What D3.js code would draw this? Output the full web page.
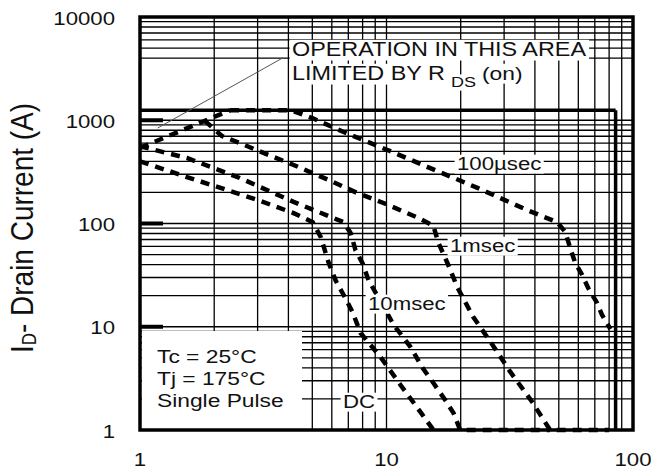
<!DOCTYPE html>
<html>
<head>
<meta charset="utf-8">
<script src="https://cdn.jsdelivr.net/npm/d3@7"></script>
<style>
  html, body { margin: 0; padding: 0; background: #fff; }
  text { font-family: "Liberation Sans", Arial, sans-serif; fill: #111; }
</style>
</head>
<body>
<div id="chart"></div>
<script>
// Safe operating area (V = drain-source volts, I = amps)
const rdsV = [1, 2.32];
const rdsI = [540, 1250];

const us100V = [2.32, 4.1, 5.0, 6.7, 10.1, 14.7, 23.4, 37.2, 49.2, 53.1, 55.6, 58.2, 62.2, 65.8, 71.5, 74.9, 81];
const us100I = [1250, 1250, 1050, 770, 515, 352, 221, 135, 103, 83, 58, 42, 31.7, 23.7, 17, 13, 9.5];

const ms1V = [1.83, 2.15, 2.54, 3.03, 4.2, 5.82, 7.63, 9.72, 13.5, 15.5, 16.2, 17.7, 19.4, 22.5, 26.9, 31.8, 39, 46.1, 80];
const ms1I = [990, 704, 602, 504, 369, 264, 197, 158, 113, 95, 66, 41, 24, 12.4, 6.7, 3.65, 1.87, 1.0, 1.0];

const ms10V = [1, 1.55, 2.54, 4.2, 5.82, 6.7, 7.15, 7.49, 8.0, 8.45, 10.7, 12.5, 14.0, 15.5, 17.3, 18.7, 19.9, 46];
const ms10I = [560, 431, 276, 162, 118, 103, 81, 55, 41, 28.4, 10.4, 6.4, 4.0, 2.85, 1.95, 1.46, 1.0, 1.0];

const dcV = [1, 1.55, 3.0, 4.2, 5.02, 5.41, 5.82, 6.22, 6.7, 7.28, 7.85, 9.46, 11.4, 14.0, 15.5];
const dcI = [400, 282, 169, 126, 103, 74, 42, 28, 20.3, 13.9, 8.7, 5.09, 2.73, 1.40, 1.0];

const maxCurrent = 1250;   // package limit
const maxVoltage = 85;     // BVdss limit
const leaderV = [1.18, 3.79];
const leaderI = [841, 4010];

const xTicks = [1, 10, 100];
const yTicks = [1, 10, 100, 1000, 10000];
const xGrid = [2, 3, 4, 5, 6, 7, 8, 9, 10, 20, 30, 40, 50, 60, 70, 80, 90];
const yGrid = [2, 3, 4, 5, 6, 7, 8, 9, 10, 20, 30, 40, 50, 60, 70, 80, 90,
               100, 200, 300, 400, 500, 600, 700, 800, 900, 1000, 4000, 5000, 6000, 7000, 8000, 9000];

const width = 651, height = 472;
const plotL = 140, plotR = 633, plotT = 17, plotB = 430;
const SX = 1.2; // the original lettering is a bit wide

const x = d3.scaleLog().domain([1, 100]).range([plotL, plotR]);
const y = d3.scaleLog().domain([1, 10000]).range([plotB, plotT]);

const svg = d3.select("#chart").append("svg")
    .attr("width", width)
    .attr("height", height);

// grid
svg.append("g")
  .selectAll("line")
  .data(xGrid)
  .join("line")
    .attr("x1", d => x(d)).attr("x2", d => x(d))
    .attr("y1", plotT).attr("y2", plotB)
    .attr("stroke", "#000").attr("stroke-width", 1.3);

svg.append("g")
  .selectAll("line")
  .data(yGrid)
  .join("line")
    .attr("x1", plotL).attr("x2", plotR)
    .attr("y1", d => y(d)).attr("y2", d => y(d))
    .attr("stroke", "#000").attr("stroke-width", 1.3);

// conditions box knocks out the grid in the lower left
svg.append("rect")
    .attr("x", plotL + 2).attr("y", 331)
    .attr("width", 160).attr("height", plotB - 331)
    .attr("fill", "#fff");

// limit lines
svg.append("line")
    .attr("x1", plotL).attr("x2", x(maxVoltage))
    .attr("y1", y(maxCurrent)).attr("y2", y(maxCurrent))
    .attr("stroke", "#000").attr("stroke-width", 3.5);
svg.append("line")
    .attr("x1", x(maxVoltage)).attr("x2", x(maxVoltage))
    .attr("y1", y(maxCurrent)).attr("y2", plotB)
    .attr("stroke", "#000").attr("stroke-width", 3.5);

// leader line for the Rds(on) note
svg.append("line")
    .attr("x1", x(leaderV[0])).attr("y1", y(leaderI[0]))
    .attr("x2", x(leaderV[1])).attr("y2", y(leaderI[1]))
    .attr("stroke", "#555").attr("stroke-width", 1);

// curves
const line = d3.line()
    .x(d => x(d[0]))
    .y(d => y(d[1]));

const curves = [
  d3.zip(rdsV, rdsI),
  d3.zip(us100V, us100I),
  d3.zip(ms1V, ms1I),
  d3.zip(ms10V, ms10I),
  d3.zip(dcV, dcI)
];

svg.append("g")
  .selectAll("path")
  .data(curves)
  .join("path")
    .attr("d", line)
    .attr("fill", "none")
    .attr("stroke", "#000")
    .attr("stroke-width", 4.5)
    .attr("stroke-dasharray", "9,7");

// text helper: stretched label with optional white backing
function label(px, py, str, size, anchor, boxed) {
  const g = svg.append("g").attr("transform", `translate(${px},${py}) scale(${SX},1)`);
  const t = g.append("text")
      .attr("font-size", size)
      .attr("text-anchor", anchor || "start")
      .text(str);
  if (boxed) {
    const bb = t.node().getBBox();
    g.insert("rect", "text")
        .attr("x", bb.x - 2).attr("y", bb.y + 1)
        .attr("width", bb.width + 4).attr("height", bb.height - 1)
        .attr("fill", "#fff");
  }
  return t;
}

label(457, 170, "100µsec", 18.5, "start", true);
label(450, 252, "1msec", 18.5, "start", true);
label(368, 310, "10msec", 18.5, "start", true);
label(343, 408, "DC", 18.5, "start", true);

label(292, 56, "OPERATION IN THIS AREA", 19.5, "start", true);
label(292, 80, "LIMITED BY R", 19.5, "start", true);
label(451, 87, "DS", 15, "start", true);
label(482, 80, "(on)", 19, "start", true);

label(157, 363, "Tc = 25°C", 19, "start", false);
label(157, 385, "Tj = 175°C", 19, "start", false);
label(157, 407, "Single Pulse", 19, "start", false);

// frame and decade ticks
svg.append("rect")
    .attr("x", plotL).attr("y", plotT)
    .attr("width", plotR - plotL).attr("height", plotB - plotT)
    .attr("fill", "none").attr("stroke", "#000").attr("stroke-width", 3.5);

svg.append("g")
  .selectAll("line")
  .data(yTicks.slice(1, -1))
  .join("line")
    .attr("x1", plotL).attr("x2", plotL + 23)
    .attr("y1", d => y(d)).attr("y2", d => y(d))
    .attr("stroke", "#000").attr("stroke-width", 4);

// axis labels
yTicks.forEach(v => label(115, y(v) + 7.5, String(v), 18.5, "end", false));
xTicks.forEach(v => label(x(v), 466, String(v), 18.5, "middle", false));

const yl = svg.append("text")
    .attr("transform", `translate(33,228) rotate(-90) scale(1,1.15)`)
    .attr("font-size", 28)
    .attr("text-anchor", "middle");
yl.append("tspan").text("I");
yl.append("tspan").attr("font-size", 17).attr("dy", 3).text("D");
yl.append("tspan").attr("dy", -3).text("- Drain Current (A)");
</script>
</body>
</html>
